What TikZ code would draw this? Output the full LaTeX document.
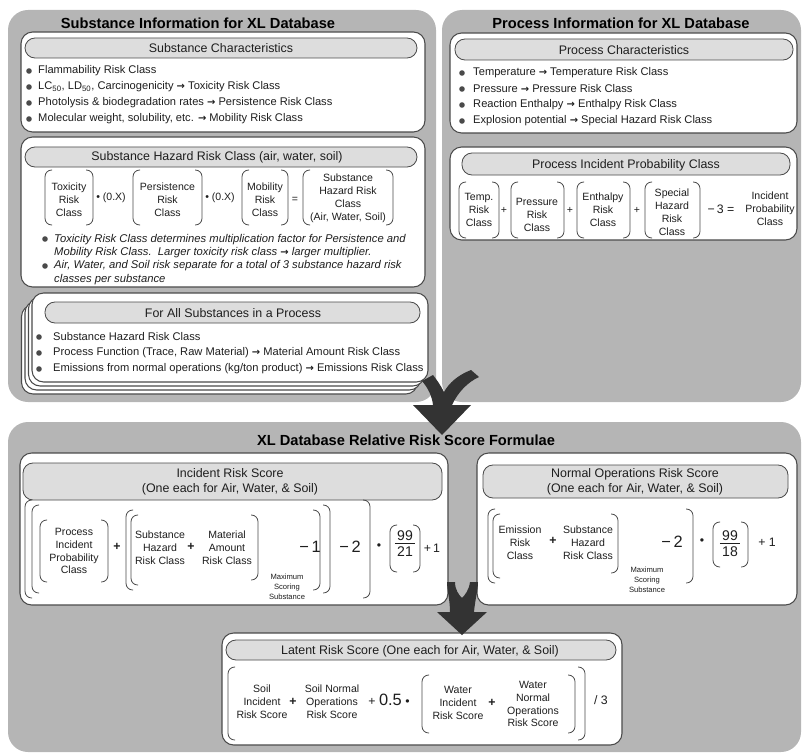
\documentclass[tikz,border=0pt]{standalone}
\usepackage{fontspec}
\setmainfont{Liberation Sans}
\newfontfamily\arrowfont{DejaVu Sans}
\usepackage{tikz}
\usetikzlibrary{positioning,calc}
\definecolor{xlPanel}{HTML}{B5B5B5}
\definecolor{xlPill}{HTML}{DDDDDD}
\definecolor{xlEdge}{HTML}{4A4A4A}
\definecolor{xlArrow}{HTML}{333333}
\definecolor{xlText}{HTML}{1E1E1E}
\tikzset{
  panel/.style={fill=xlPanel, rounded corners=6mm},
  card/.style={draw=xlEdge, fill=white, line width=0.9pt, rounded corners=3.5mm},
  pill/.style={draw=xlEdge, fill=xlPill, line width=0.7pt, rounded corners=3mm},
  paneltitle/.style={font=\fontsize{12.5}{14}\selectfont\bfseries, text=black, inner sep=0pt},
  pilltext/.style={font=\fontsize{10.6}{12.8}\selectfont, align=center, text=xlText, inner sep=0pt},
  bodytext/.style={font=\fontsize{9.5}{11}\selectfont, anchor=west, text=xlText, inner sep=0pt},
  notetext/.style={bodytext, font=\fontsize{9.6}{11.4}\selectfont\itshape, align=left},
  term/.style={font=\fontsize{9}{11}\selectfont, align=center, text=xlText, inner sep=0pt},
  bigop/.style={font=\fontsize{14}{16}\selectfont, text=xlText, inner sep=0pt},
  midop/.style={font=\fontsize{10.5}{12}\selectfont, text=xlText, inner sep=0pt},
  fracnum/.style={font=\fontsize{12}{14}\selectfont, text=xlText, inner sep=0pt},
  subnote/.style={font=\fontsize{6.5}{8.5}\selectfont, align=center, text=xlText, inner sep=0pt},
  bulletdot/.style={fill=xlEdge},
  brak/.style={draw=xlEdge, line width=0.7pt, rounded corners=2mm},
  fracbar/.style={draw=xlText, line width=0.7pt},
  bigarrow/.style={fill=xlArrow}
}
\newcommand\brL[4][7]{\draw[brak] (#2+#1,#3) -- (#2,#3) -- (#2,#4) -- (#2+#1,#4);}
\newcommand\brR[4][7]{\draw[brak] (#2-#1,#3) -- (#2,#3) -- (#2,#4) -- (#2-#1,#4);}
\newcommand\toarr{{\arrowfont\bfseries\fontsize{8.5}{10}\selectfont →}}

\begin{document}
\begin{tikzpicture}[x=0.3mm, y=-0.3mm]
  \useasboundingbox (0,0) rectangle (802,753);
  \fill[panel] (8,10) rectangle (436,402);
  \fill[panel] (442,10) rectangle (801,402);
  \fill[panel] (8,422) rectangle (801,752);

  \node[paneltitle] (tSub) at (198,23) {Substance Information for XL Database};
  \node[paneltitle] (tProc) at (621,23) {Process Information for XL Database};
  \node[paneltitle] (tForm) at (406,440) {XL Database Relative Risk Score Formulae};

  \draw[card] (21,32) rectangle (425,132);
  \draw[pill] (25,38) rectangle (417,58);
  \node[pilltext] (hSC) at (221,48) {Substance Characteristics};
  \foreach \txt [count=\i] in {Flammability Risk Class,
      {LC\textsubscript{50}, LD\textsubscript{50}, Carcinogenicity \toarr{} Toxicity Risk Class},
      Photolysis \& biodegradation rates \toarr{} Persistence Risk Class,
      {Molecular weight, solubility, etc. \toarr{} Mobility Risk Class}}{
    \fill[bulletdot] (29,55+16*\i) circle[radius=2.8];
    \node[bodytext] (sc\i) at (38,55+16*\i) {\txt};
  }

  \draw[card] (21,137) rectangle (425,287);
  \draw[pill] (25,147) rectangle (417,167);
  \node[pilltext] (hSHRC) at (217,157) {Substance Hazard Risk Class (air, water, soil)};
  \brL{45}{170}{225} \brR{93}{170}{225}
  \node[term] (tox) at (69,200) {Toxicity\\Risk\\Class};
  \node[term] (mulA) at (111,198) {• (0.X)};
  \brL{133}{170}{225} \brR{202}{170}{225}
  \node[term] (pers) at (167.5,200) {Persistence\\Risk\\Class};
  \node[term] (mulB) at (220,198) {• (0.X)};
  \brL{242}{170}{225} \brR{288}{170}{225}
  \node[term] (mob) at (265,200) {Mobility\\Risk\\Class};
  \node[term] (eqA) at (295,200) {=};
  \brL{303}{170}{225} \brR{393}{170}{225}
  \node[term] (shrc) at (348,198) {Substance\\Hazard Risk\\Class\\(Air, Water, Soil)};
  \fill[bulletdot] (45,239) circle[radius=2.8];
  \node[notetext] (noteA) at (54,246) {Toxicity Risk Class determines multiplication factor for Persistence and\\Mobility Risk Class.\ \ Larger toxicity risk class \toarr{} larger multiplier.};
  \fill[bulletdot] (45,266) circle[radius=2.8];
  \node[notetext] (noteB) at (54,272.5) {Air, Water, and Soil risk separate for a total of 3 substance hazard risk\\classes per substance};

  \foreach \k in {3,2,1}
    \draw[card] (32-3.5*\k,293+4*\k) rectangle (428-3.5*\k,382+4*\k);
  \draw[card] (32,293) rectangle (428,382);
  \draw[pill] (45,302) rectangle (420,323);
  \node[pilltext] (hFAS) at (233,313) {For All Substances in a Process};
  \foreach \txt [count=\i] in {Substance Hazard Risk Class,
      {Process Function (Trace, Raw Material) \toarr{} Material Amount Risk Class},
      Emissions from normal operations (kg/ton product) \toarr{} Emissions Risk Class}{
    \fill[bulletdot] (39,321+16*\i) circle[radius=2.8];
    \node[bodytext] (fas\i) at (53,321+16*\i) {\txt};
  }

  \draw[card] (450,33) rectangle (797,133);
  \draw[pill] (455,39) rectangle (793,60);
  \node[pilltext] (hPC) at (624,50) {Process Characteristics};
  \foreach \txt [count=\i] in {Temperature \toarr{} Temperature Risk Class,
      Pressure \toarr{} Pressure Risk Class,
      Reaction Enthalpy \toarr{} Enthalpy Risk Class,
      Explosion potential \toarr{} Special Hazard Risk Class}{
    \fill[bulletdot] (462,57+16*\i) circle[radius=2.8];
    \node[bodytext] (pc\i) at (473,57+16*\i) {\txt};
  }

  \draw[card] (450,147) rectangle (797,240);
  \draw[pill] (462,153) rectangle (790,175);
  \node[pilltext] (hPIP) at (626,165) {Process Incident Probability Class};
  \brL{459}{182}{238} \brR{499}{182}{238}
  \node[term] (temp) at (479,210) {Temp.\\Risk\\Class};
  \node[term] (plA) at (504,210) {+};
  \brL{511}{182}{238} \brR{564}{182}{238}
  \node[term] (press) at (537,215) {Pressure\\Risk\\Class};
  \node[term] (plB) at (570,210) {+};
  \brL{577}{182}{238} \brR{630}{182}{238}
  \node[term] (enth) at (603,210) {Enthalpy\\Risk\\Class};
  \node[term] (plC) at (637,210) {+};
  \brL{645}{182}{238} \brR{700}{182}{238}
  \node[term] (spec) at (672,212.5) {Special\\Hazard\\Risk\\Class};
  \node[midop] (minC) at (721,209) {−\,3 =};
  \node[term] (ipc) at (770,209) {Incident\\Probability\\Class};

  \draw[card] (20,453) rectangle (448,605);
  \draw[pill] (23,463) rectangle (442,500);
  \node[pilltext] (hInc) at (230,482) {Incident Risk Score\\(One each for Air, Water, \& Soil)};
  \brL{25}{500}{598} \brR{370}{500}{598}
  \brL{32}{505}{593} \brR{330}{505}{593}
  \brL{40}{520}{582} \brR{108}{520}{582}
  \node[term] (pipc) at (74,551) {Process\\Incident\\Probability\\Class};
  \node[midop] (plD) at (117,547) {\textbf{+}};
  \brL{126}{510}{590} \brR{320}{510}{590}
  \brL{131}{515}{585} \brR{258}{515}{580}
  \node[term] (shzA) at (160,548) {Substance\\Hazard\\Risk Class};
  \node[midop] (plE) at (191,547) {\textbf{+}};
  \node[term] (mat) at (227,548) {Material\\Amount\\Risk Class};
  \node[subnote] (maxA) at (287,587) {Maximum\\Scoring\\Substance};
  \node[bigop] (minA) at (310,547) {−\,1};
  \node[bigop] (minB) at (350,547) {−\,2};
  \node[midop] (dotA) at (379,547) {•};
  \brL{390}{525}{572} \brR{420}{525}{572}
  \node[fracnum, anchor=south] (numA) at (405,541) {99};
  \node[fracnum, anchor=north] (denA) at (405,546) {21};
  \draw[fracbar] ($(numA.south west)+(-2,2.5)$) -- ($(numA.south east)+(2,2.5)$);
  \node[midop] (plF) at (432,548) {+\,1};

  \draw[card] (477,453) rectangle (797,605);
  \draw[pill] (483,465) rectangle (788,498);
  \node[pilltext] (hNor) at (635,482) {Normal Operations Risk Score\\(One each for Air, Water, \& Soil)};
  \brL{488}{509}{583} \brR{693}{509}{583}
  \brL{493}{514}{578} \brR{618}{514}{573}
  \node[term] (emis) at (520,543) {Emission\\Risk\\Class};
  \node[midop] (plG) at (553,541) {\textbf{+}};
  \node[term] (shzB) at (588,543) {Substance\\Hazard\\Risk Class};
  \node[subnote] (maxB) at (647,580) {Maximum\\Scoring\\Substance};
  \node[bigop] (minD) at (672,542) {−\,2};
  \node[midop] (dotB) at (702,542) {•};
  \brL{713}{522}{567} \brR{748}{522}{567}
  \node[fracnum, anchor=south] (numB) at (730,541) {99};
  \node[fracnum, anchor=north] (denB) at (730,546) {18};
  \draw[fracbar] ($(numB.south west)+(-2,2.5)$) -- ($(numB.south east)+(2,2.5)$);
  \node[midop] (plH) at (767,542) {+ 1};

  \draw[card] (222,633) rectangle (622,745);
  \draw[pill] (226,640) rectangle (616,660);
  \node[pilltext] (hLat) at (420,651) {Latent Risk Score (One each for Air, Water, \& Soil)};
  \brL{228}{667}{740} \brR{585}{667}{740}
  \node[term] (soilI) at (262,702) {Soil\\Incident\\Risk Score};
  \node[midop] (plI) at (293,702) {\textbf{+}};
  \node[term] (soilN) at (332,702) {Soil Normal\\Operations\\Risk Score};
  \node[midop] (half) at (389,700) {+ {\fontsize{14}{16}\selectfont 0.5} •};
  \brL{422}{675}{733} \brR{575}{675}{733}
  \node[term] (watI) at (458,703) {Water\\Incident\\Risk Score};
  \node[midop] (plJ) at (492,703) {\textbf{+}};
  \node[term] (watN) at (533,704) {Water\\Normal\\Operations\\Risk Score};
  \node[midop] (divA) at (601,700) {/ 3};

  \fill[bigarrow] (413,405) -- (442,435) -- (471,405) -- (452,405)
    .. controls (458,392) and (468,382) .. (479,377) -- (471,370)
    .. controls (458,375) and (449,383) .. (444,392)
    .. controls (441,386) and (437,380) .. (433,375) -- (422,381)
    .. controls (428,388) and (432,396) .. (433,405) -- cycle;
  \fill[bigarrow] (437,612) -- (462,635) -- (487,612) -- (474,612)
    .. controls (475,600) and (478,590) .. (478,582) -- (470,582)
    .. controls (469,590) and (465,595) .. (462,598)
    .. controls (459,595) and (455,590) .. (455,582) -- (447,582)
    .. controls (447,590) and (450,600) .. (450,612) -- cycle;
\end{tikzpicture}
\end{document}
